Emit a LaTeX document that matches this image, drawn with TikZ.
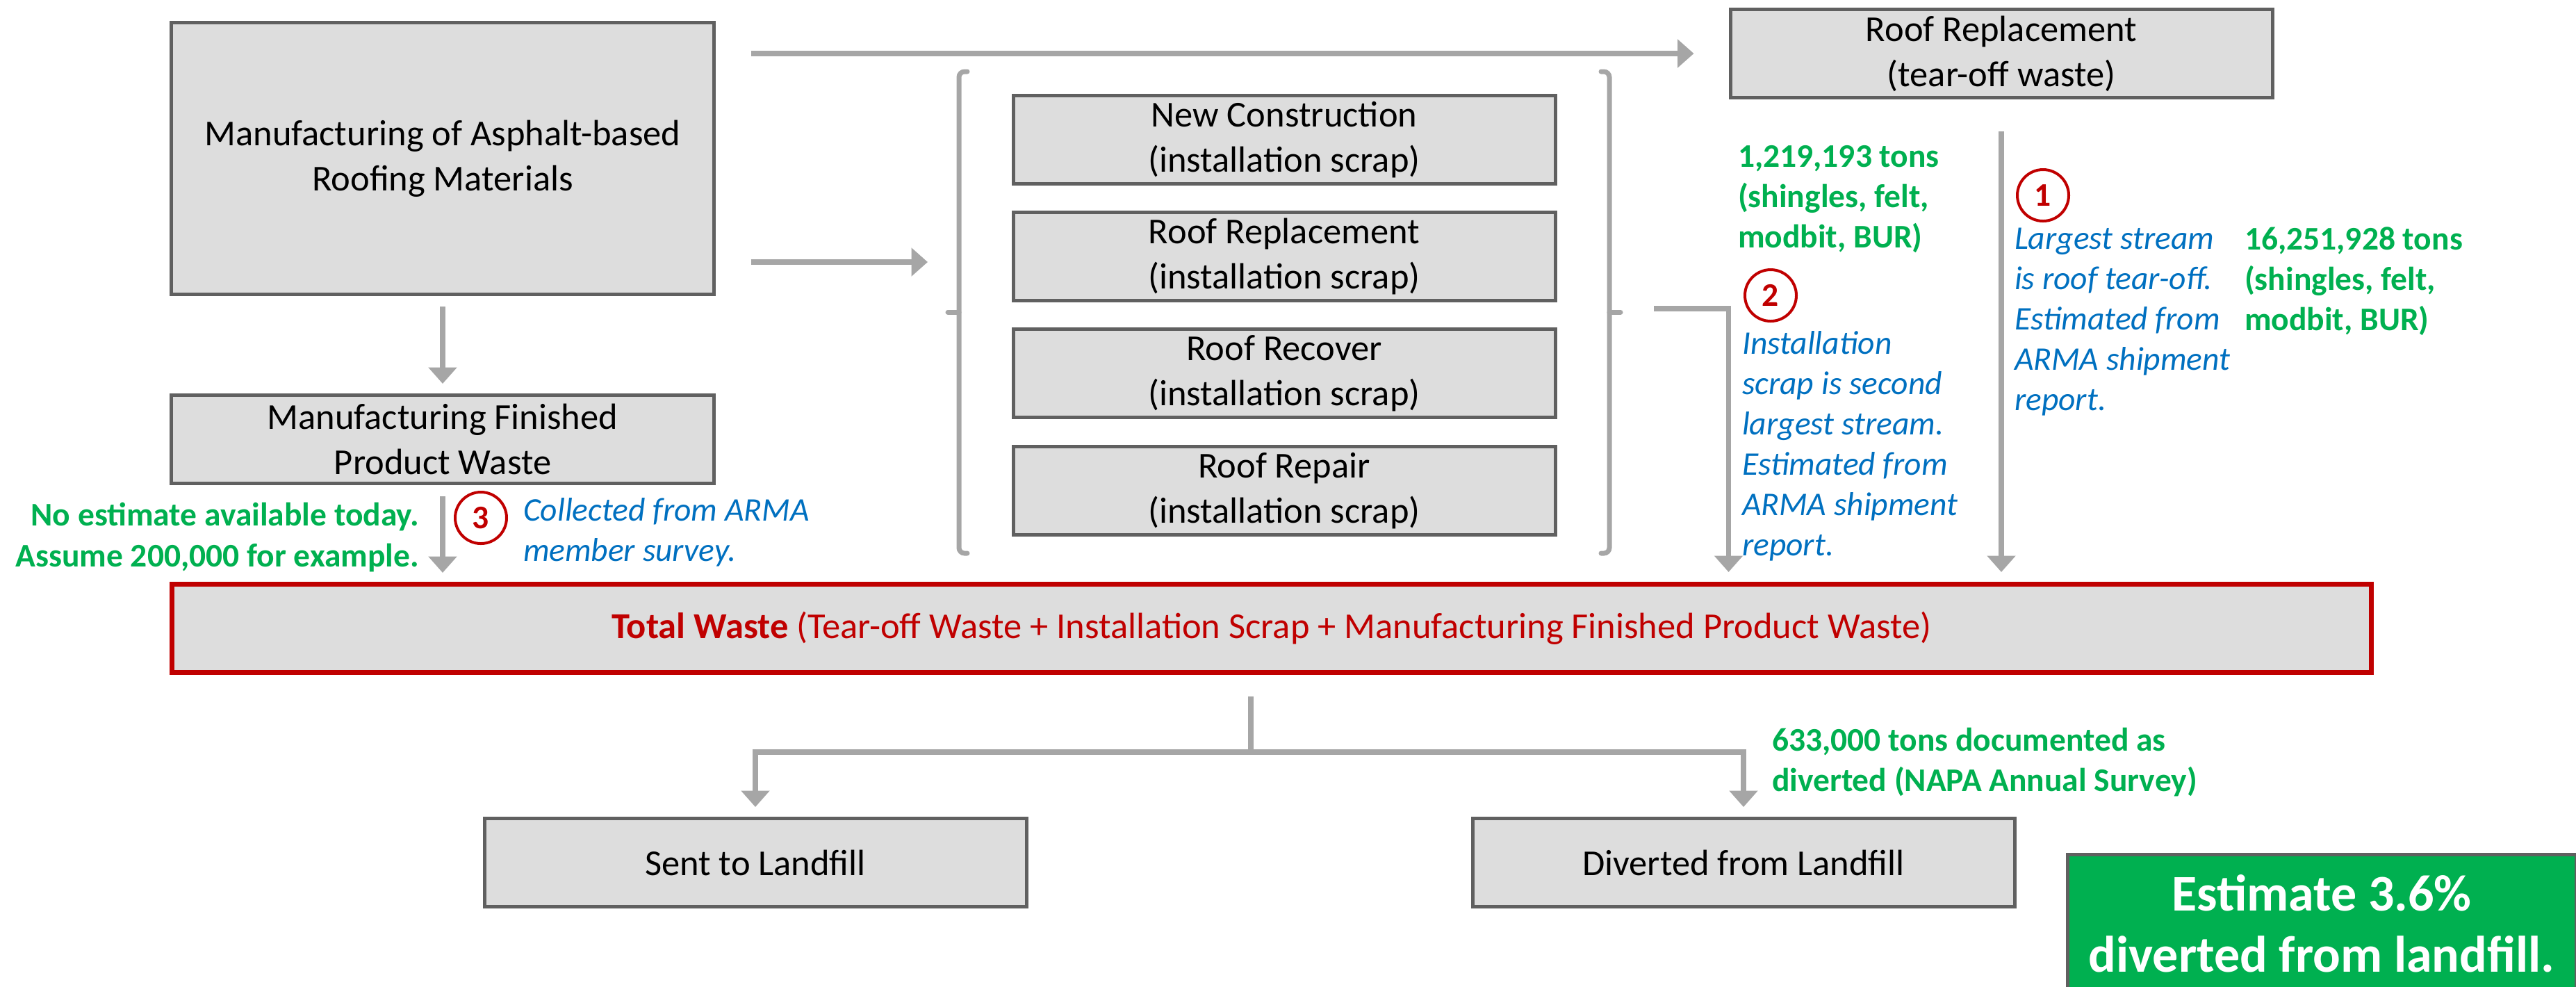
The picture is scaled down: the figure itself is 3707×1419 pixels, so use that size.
\documentclass[tikz,border=0pt]{standalone}
\usepackage{fontspec}
\setmainfont{Carlito}
\usetikzlibrary{arrows.meta}

\definecolor{boxfill}{HTML}{DDDDDD}
\definecolor{boxline}{HTML}{606060}
\definecolor{arrowgray}{HTML}{A6A6A6}
\definecolor{wred}{HTML}{C00000}
\definecolor{wgreen}{HTML}{00B050}
\definecolor{wblue}{HTML}{0070C0}

\tikzset{
  box/.style={draw=boxline, fill=boxfill, line width=1pt, align=center,
    inner sep=0pt, minimum width=156pt, minimum height=25.4pt,
    font=\fontsize{10.5}{13}\selectfont},
  result/.style={draw=boxline, fill=wgreen, line width=1pt, align=center,
    inner sep=0pt, minimum width=146.4pt, minimum height=40pt, text=white,
    font=\bfseries\fontsize{14.8}{17.6}\selectfont},
  flow/.style={draw=arrowgray, line width=1.45pt, -{Triangle[length=4.7pt,width=8pt]}},
  link/.style={draw=arrowgray, line width=1.45pt},
  brace/.style={draw=arrowgray, line width=1.4pt, rounded corners=1.6pt, line cap=round},
  num/.style={circle, draw=wred, line width=0.8pt, minimum size=14.8pt,
    inner sep=0pt, text=wred, font=\bfseries\fontsize{9.5}{11}\selectfont},
  gnote/.style={text=wgreen, align=left, inner sep=0pt,
    font=\bfseries\fontsize{9.5}{11.6}\selectfont},
  bnote/.style={text=wblue, align=left, inner sep=0pt,
    font=\itshape\fontsize{9.5}{11.6}\selectfont},
}

\begin{document}
\begin{tikzpicture}[x=0.2pt, y=-0.2pt]
\useasboundingbox (0,0) rectangle (3707,1419);
\clip (0,0) rectangle (3707,1419);

% boxes
\node[box, minimum height=78.2pt] (mfg) at (637,228) {Manufacturing of Asphalt-based\\Roofing Materials};
\node[box] (rrt) at (2880,77) {Roof Replacement\\(tear-off waste)};
\node[box] (nc) at (1848,201) {New Construction\\(installation scrap)};
\node[box] (rrp) at (1848,369) {Roof Replacement\\(installation scrap)};
\node[box] (rrc) at (1848,537) {Roof Recover\\(installation scrap)};
\node[box] (rrr) at (1848,706) {Roof Repair\\(installation scrap)};
\node[box] (mfpw) at (637,632) {Manufacturing Finished\\Product Waste};
\node[box, draw=wred, line width=1.4pt, minimum width=633pt, text=wred] (tw) at (1830,904)
  {\textbf{Total Waste} (Tear-off Waste + Installation Scrap + Manufacturing Finished Product Waste)};
\node[box] (stl) at (1087,1241) {Sent to Landfill};
\node[box] (dfl) at (2509,1241) {Diverted from Landfill};
\node[result] (est) at (3341,1329) {Estimate 3.6\%\\diverted from landfill.};

% braces round the installation boxes
\foreach \bx/\s in {1380/1, 2316/-1} {
  \draw[brace] (\bx+12*\s,103) -- (\bx,103) -- (\bx,796) -- (\bx+12*\s,796);
  \draw[brace] (\bx,449) -- (\bx-16*\s,449);
}
\coordinate (lbtip) at (1364,449);
\coordinate (rbtip) at (2332,449);

% flows
\coordinate (mfgout) at ([yshift=-29.8pt]mfg.east);
\coordinate (inscrap) at (rrt.west |- tw.north);
\draw[flow, shorten <=10.2pt, shorten >=10pt] (mfg.east |- rrt.west) -- (rrt.west);
\draw[flow, shorten <=10.2pt, shorten >=5.8pt] (mfgout) -- (mfgout -| lbtip);
\draw[flow, shorten <=3pt, shorten >=2.8pt] (mfg.south) -- (mfpw.north);
\draw[flow, shorten <=3.2pt, shorten >=2.6pt] (mfpw.south) -- (mfpw.south |- tw.north);
\draw[flow, shorten >=2.8pt] ([xshift=9.6pt,yshift=1pt]rbtip) -| (inscrap);
\draw[flow, shorten <=9.2pt, shorten >=2.8pt] (rrt.south) -- (rrt.south |- tw.north);

\coordinate (split) at ([xshift=-6pt, yshift=-22.2pt]tw.south);
\draw[link, shorten <=6.2pt] ([xshift=-6pt]tw.south) -- (split);
\draw[flow, shorten >=2.8pt] (split) -| (stl.north);
\draw[flow, shorten >=2.8pt] (split) -| (dfl.north);

% notes
\node[gnote, anchor=west] (g1) at (2500,286) {1,219,193 tons\\(shingles, felt,\\modbit, BUR)};
\node[num] (n2) at (2548,425) {2};
\node[bnote, anchor=west] (b2) at (2506,642) {Installation\\scrap is second\\largest stream.\\Estimated from\\ARMA shipment\\report.};
\node[num] (n1) at (2940,281) {1};
\node[bnote, anchor=west] (b1) at (2898,463) {Largest stream\\is roof tear-off.\\Estimated from\\ARMA shipment\\report.};
\node[gnote, anchor=west] (g2) at (3229,405) {16,251,928 tons\\(shingles, felt,\\modbit, BUR)};
\node[gnote, anchor=east, align=right] (g3) at (604,773) {No estimate available today.\\Assume 200,000 for example.};
\node[num] (n3) at (692,745) {3};
\node[bnote, anchor=west] (b3) at (752,766) {Collected from ARMA\\member survey.};
\node[gnote, anchor=west] (g4) at (2549,1097) {633,000 tons documented as\\diverted (NAPA Annual Survey)};

\end{tikzpicture}
\end{document}
